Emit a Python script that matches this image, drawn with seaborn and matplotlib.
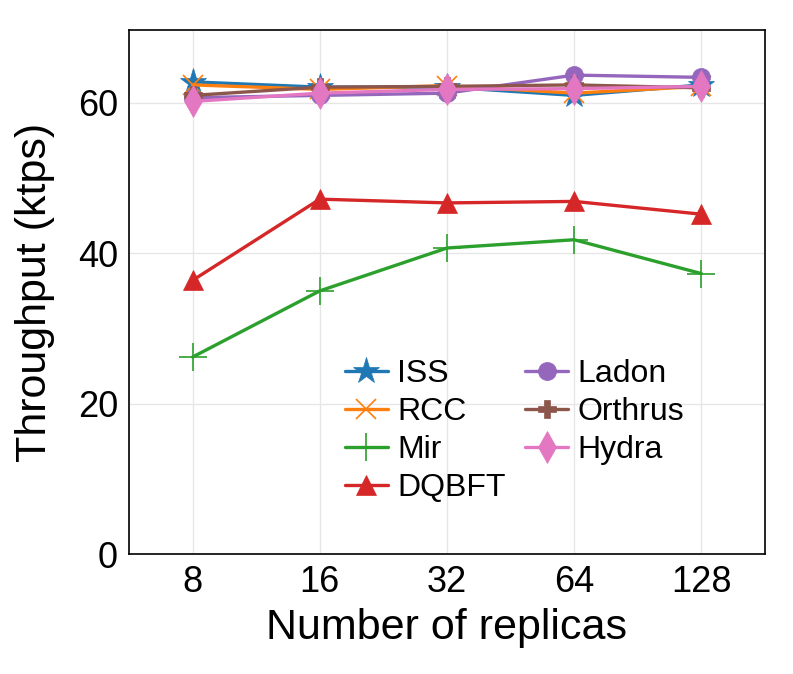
import matplotlib
matplotlib.use("Agg")
import matplotlib.pyplot as plt
import seaborn as sns
import pandas as pd

replicas = ["8", "16", "32", "64", "128"]
iss = [62.8, 62.1, 62.1, 61.0, 62.4]
rcc = [62.4, 61.8, 62.3, 61.3, 62.2]
mir = [26.2, 35.0, 40.7, 41.8, 37.3]
dqbft = [36.4, 47.2, 46.7, 46.9, 45.2]
ladon = [60.7, 61.0, 61.3, 63.7, 63.4]
orthrus = [61.0, 62.1, 62.2, 62.4, 62.0]
hydra = [60.2, 61.3, 61.8, 61.9, 62.2]

series = {"ISS": iss, "RCC": rcc, "Mir": mir, "DQBFT": dqbft,
          "Ladon": ladon, "Orthrus": orthrus, "Hydra": hydra}
rows = []
for name, vals in series.items():
    for r, v in zip(replicas, vals):
        rows.append({"Replicas": r, "Throughput": v, "Protocol": name})
df = pd.DataFrame(rows)

sns.set_theme(style="whitegrid")
plt.rcParams['font.family'] = ['Liberation Sans', 'DejaVu Sans']
plt.rcParams['text.color'] = 'black'
plt.rcParams['axes.labelcolor'] = 'black'
plt.rcParams['xtick.color'] = 'black'
plt.rcParams['ytick.color'] = 'black'

fig = plt.figure(figsize=(7.93, 6.74), dpi=100)
ax = fig.add_axes([129/793, 1-554/674, (765-129)/793, (554-30)/674])

palette = {"ISS": "#1f77b4", "RCC": "#ff7f0e", "Mir": "#2ca02c", "DQBFT": "#d62728",
           "Ladon": "#9467bd", "Orthrus": "#8c564b", "Hydra": "#e377c2"}
markers = {"ISS": "*", "RCC": "x", "Mir": "+", "DQBFT": "^",
           "Ladon": "o", "Orthrus": "P", "Hydra": "d"}
sizes = {"ISS": 20, "RCC": 15, "Mir": 20, "DQBFT": 15,
         "Ladon": 13, "Orthrus": 13, "Hydra": 16}

for name in series:
    sub = df[df["Protocol"] == name]
    sns.lineplot(data=sub, x="Replicas", y="Throughput", ax=ax, color=palette[name],
                 marker=markers[name], markersize=sizes[name], linewidth=2.4,
                 markeredgewidth=1.2 if markers[name] in ("x", "+") else 0.5,
                 markeredgecolor=palette[name], label=name, sort=False)

ax.set_xlim(-0.5, 4.5)
ax.set_ylim(0, 69.7)
ax.set_yticks([0, 20, 40, 60])
ax.set_xlabel("Number of replicas", fontsize=31, labelpad=6)
ax.set_ylabel("Throughput (ktps)", fontsize=31, labelpad=16)
ax.tick_params(axis="both", labelsize=26, length=0, pad=8)
ax.grid(True, color="#e6e6e6", linewidth=1)
ax.set_facecolor("white")
for s in ax.spines.values():
    s.set_color("black")
    s.set_linewidth(1.2)

ax.legend(ncol=2, loc="lower left", bbox_to_anchor=(0.319, 0.073), frameon=False,
          fontsize=23, handlelength=1.35, handletextpad=0.3, columnspacing=0.6,
          labelspacing=0.25, borderaxespad=0)

fig.savefig("out.png", dpi=100)
